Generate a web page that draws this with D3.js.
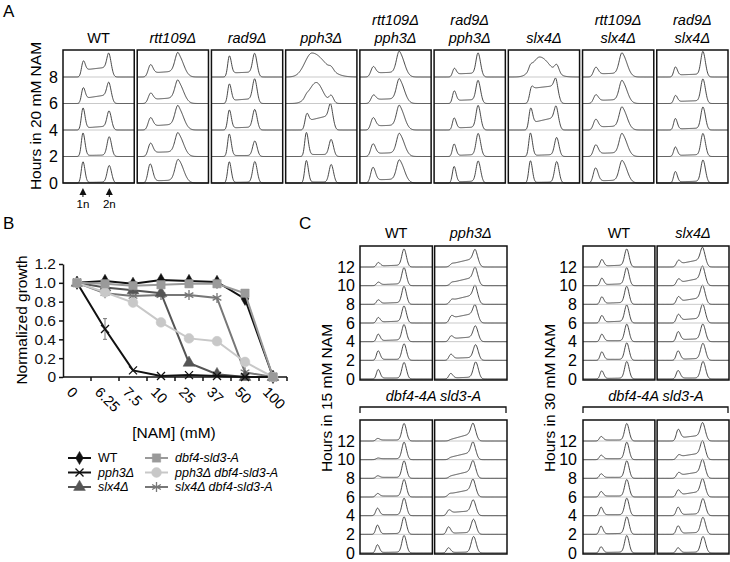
<!DOCTYPE html>
<html>
<head>
<meta charset="utf-8">
<script src="https://cdn.jsdelivr.net/npm/d3@7"></script>
<style>
body { margin: 0; background: #fff; }
svg { font-family: "Liberation Sans", Arial, sans-serif; }
</style>
</head>
<body>
<svg id="fig" width="730" height="562"></svg>
<script>
// ---------- data ----------
// Panel A: DNA content histograms, 20 mM NAM
const strainsA = ["WT", "rtt109Δ", "rad9Δ", "pph3Δ", "rtt109Δ pph3Δ", "rad9Δ pph3Δ", "slx4Δ", "rtt109Δ slx4Δ", "rad9Δ slx4Δ"];
const hoursA = [0, 2, 4, 6, 8];
// channel (0-100) of the 1n and 2n peaks
const peaksA = [[28, 65], [18, 58], [25, 61], [29, 64], [18, 56], [28, 62], [31, 68], [18, 56], [26, 65]];
// peak widths: 1n, 2n left side, 2n right side
const widthsA = [[2.3, 3, 3.2], [3, 4.5, 7], [2.3, 3, 3.2], [2.3, 3, 3.2], [3, 4.2, 6.5], [2.3, 3, 3.4], [2.3, 3, 3.2], [3, 4.2, 6.5], [2.3, 3, 3.4]];
// per strain, per hour: [1n count, 2n count, S level near 1n, S level near 2n, optional hump [channel, count, wl, wr]]
const histA = [
  [[21, 17, 0.5, 1], [23, 19, 1, 1.5], [21, 17, 2, 4], [13, 16, 5, 9], [12, 18, 7, 10]],
  [[18, 22, 2, 3], [11, 21, 4, 5], [10, 21, 4, 6], [8, 20, 4, 6], [10, 21, 4, 6]],
  [[21, 21, 0.5, 1], [22, 15, 1, 1], [19, 19, 2, 3], [18, 22, 3, 5], [19, 21, 4, 5]],
  [[22, 18, 1, 1], [23, 16, 2, 2], [11, 17, 9, 15], [2, 7, 0, 0, [43, 21, 10, 9]], [0, 3, 0, 0, [37, 24, 10, 18]]],
  [[14, 21, 3, 4], [11, 21, 3, 4], [10, 22, 4, 5], [6, 22, 4, 5], [8, 23, 4, 5]],
  [[16, 21, 1, 2], [12, 22, 1, 2], [11, 23, 2, 3], [11, 21, 3, 4], [7, 22, 3, 4]],
  [[22, 21, 0.5, 1], [23, 18, 1, 2], [18, 16, 7, 13], [6, 13, 15, 18], [4, 8, 0, 0, [44, 20, 10, 14]]],
  [[14, 21, 2, 3], [10, 21, 3, 4], [9, 21, 3, 4], [7, 21, 3, 4], [8, 22, 3, 4]],
  [[11, 22, 1, 2], [9, 22, 1, 2], [11, 22, 1, 2], [7, 23, 2, 3], [9, 24, 2, 3]]
];

// Panel B: growth vs NAM
const conc = ["0", "6.25", "7.5", "10", "25", "37", "50", "100"];
const growthWT = [1.0, 1.02, 0.99, 1.03, 1.02, 1.01, 0.83, 0.0];
const growthPph3 = [1.0, 0.51, 0.07, 0.01, 0.02, 0.01, 0.0, 0.0];
const errPph3 = [0, 0.11, 0.01, 0, 0, 0, 0, 0];
const growthSlx4 = [1.0, 0.95, 0.92, 0.89, 0.15, 0.03, 0.0, 0.0];
const growthDbf = [1.0, 0.99, 0.97, 0.98, 0.99, 0.99, 0.89, 0.0];
const growthPph3Dbf = [1.0, 0.9, 0.79, 0.58, 0.41, 0.38, 0.16, 0.0];
const growthSlx4Dbf = [1.0, 0.89, 0.86, 0.87, 0.87, 0.84, 0.05, 0.0];

// Panel C: histograms in 15 mM (left) and 30 mM (right) NAM
const hoursC = [0, 2, 4, 6, 8, 10, 12];
const strainsC15 = ["WT", "pph3Δ"];
const strainsC30 = ["WT", "slx4Δ"];
const peaksC15 = [[25, 61], [22, 57]];
const peaksC15dbf = [[24, 61], [19, 54]];
const peaksC30 = [[26, 61], [29, 64]];
const peaksC30dbf = [[25, 61], [29, 64]];
const widthsC = [[2.3, 3, 3.2], [2.5, 3.3, 3.5]];
const histC15 = [
  [[9, 16, 1, 1], [9, 16, 1, 1], [7, 16, 1, 2], [5, 16, 1, 2], [4, 17, 1, 2], [3, 17, 1, 2], [4, 17, 1, 2]],
  [[5, 16, 1, 2], [5, 14, 2, 3], [4, 13, 3, 5], [4, 12, 5, 10], [2, 13, 4, 10], [1, 13, 3, 9], [1, 12, 3, 9]]
];
const histC15dbf = [
  [[8, 17, 0.5, 1], [9, 17, 0.5, 1], [7, 17, 1, 1], [3, 17, 1, 1], [2, 17, 1, 1], [1, 17, 1, 1], [2, 17, 1, 1]],
  [[5, 16, 0.5, 1], [7, 14, 1, 2], [4, 13, 3, 5], [1, 13, 3, 8], [0, 13, 2, 8], [0, 13, 2, 8], [0, 13, 1, 8]]
];
const histC30 = [
  [[8, 17, 0.5, 1], [8, 17, 1, 1], [7, 17, 1, 1], [7, 17, 1, 2], [7, 17, 1, 2], [7, 17, 1, 2], [7, 17, 1, 2]],
  [[8, 17, 1, 1], [9, 16, 1, 2], [9, 16, 2, 3], [7, 16, 3, 5], [6, 15, 3, 7], [5, 15, 3, 8], [5, 15, 3, 8]]
];
const histC30dbf = [
  [[6, 17, 0.5, 1], [8, 17, 0.5, 1], [8, 17, 1, 1], [5, 17, 1, 1], [4, 17, 1, 1], [4, 17, 1, 1], [4, 17, 1, 1]],
  [[5, 16, 0.5, 1], [8, 16, 1, 2], [8, 16, 1, 2], [6, 15, 2, 6], [4, 15, 3, 7], [3, 15, 3, 7], [10, 15, 3, 6]]
];

// ---------- helpers ----------
const svg = d3.select("#fig");

function bump(c, p, wl, wr) {
  const z = (c - p) / (c < p ? wl : wr);
  return Math.exp(-0.5 * z * z);
}
function sig(z) { return 1 / (1 + Math.exp(-z)); }

// build a histogram trace from the peak readings
function profile(row, pk, w) {
  const [h1, h2, s0, s1, hump] = row;
  const [p1, p2] = pk;
  return d3.range(0, 100.01, 0.5).map(c => {
    const t = Math.max(0, Math.min(1, (c - p1) / (p2 - p1)));
    let v = h1 * bump(c, p1, w[0], w[0] * 1.2) + h2 * bump(c, p2, w[1], w[2])
      + (s0 + (s1 - s0) * t) * sig((c - p1) / 1.2) * sig((p2 - c) / 1.2);
    if (hump) v += hump[1] * bump(c, hump[0], hump[2], hump[3]);
    return [c, v];
  });
}

function drawBlock(g, xb, top, bottom, yH, yC, hours, peaks, widths, hists) {
  const line = d3.line();
  peaks.forEach((pk, i) => {
    const ch = d3.scaleLinear().domain([0, 100]).range([xb(i), xb(i) + xb.bandwidth()]);
    hours.forEach((h, j) => {
      // faint baseline under each trace
      g.append("line")
        .attr("x1", xb(i)).attr("x2", xb(i) + xb.bandwidth())
        .attr("y1", yH(h)).attr("y2", yH(h))
        .attr("stroke", "#bbb").attr("stroke-width", 0.8);
      const pts = profile(hists[i][j], pk, widths[i]).map(([c, v]) => [ch(c), yH(h) - yC(v)]);
      g.append("path")
        .attr("d", line(pts))
        .attr("fill", "none")
        .attr("stroke", "#333")
        .attr("stroke-width", 0.9);
    });
    g.append("rect")
      .attr("x", xb(i)).attr("y", top)
      .attr("width", xb.bandwidth()).attr("height", bottom - top)
      .attr("fill", "none")
      .attr("stroke", "#111")
      .attr("stroke-width", 1.5);
  });
}

function hourTicks(g, yH, hours, x) {
  g.append("g").selectAll("text")
    .data(hours.filter(h => h % 2 === 0))
    .enter().append("text")
    .attr("x", x).attr("y", d => yH(d))
    .attr("dy", "0.36em")
    .attr("text-anchor", "end")
    .attr("font-size", 16)
    .text(d => d);
}

function panelLabel(t, x, y) {
  svg.append("text").attr("x", x).attr("y", y).attr("font-size", 17).text(t);
}

// ---------- panel A ----------
panelLabel("A", 3, 17);
const gA = svg.append("g");
const xA = d3.scaleBand().domain(d3.range(strainsA.length)).range([63, 728]).paddingInner(0.04);
const yA = d3.scaleLinear().domain([0, 8]).range([183, 77]);
const cA = d3.scaleLinear().domain([0, 26.5]).range([0, 26.5]);
drawBlock(gA, xA, 50, 183, yA, cA, hoursA, peaksA, widthsA, histA);
hourTicks(gA, yA, hoursA, 58);

gA.selectAll(".head")
  .data(strainsA)
  .enter().append("text")
  .attr("class", "head")
  .attr("text-anchor", "middle")
  .attr("font-size", 14.5)
  .attr("font-style", d => d === "WT" ? "normal" : "italic")
  .each(function (d, i) {
    const parts = d.split(" ");
    const t = d3.select(this);
    parts.forEach((p, k) => {
      t.append("tspan")
        .attr("x", xA(i) + xA.bandwidth() / 2)
        .attr("y", 43 - (parts.length - 1 - k) * 18)
        .text(p);
    });
  });

svg.append("text")
  .attr("transform", "translate(41,116) rotate(-90)")
  .attr("text-anchor", "middle")
  .attr("font-size", 15.5)
  .text("Hours in 20 mM NAM");

// 1n / 2n arrows under WT
const chWT = d3.scaleLinear().domain([0, 100]).range([xA(0), xA(0) + xA.bandwidth()]);
["1n", "2n"].forEach((lab, k) => {
  const x = chWT(peaksA[0][k]);
  gA.append("path")
    .attr("d", `M${x},188L${x - 3.5},195L${x + 3.5},195Z`)
    .attr("fill", "#111");
  gA.append("line")
    .attr("x1", x).attr("x2", x).attr("y1", 194).attr("y2", 197)
    .attr("stroke", "#111").attr("stroke-width", 1);
  gA.append("text")
    .attr("x", x).attr("y", 208)
    .attr("text-anchor", "middle")
    .attr("font-size", 11.5)
    .text(lab);
});

// ---------- panel B ----------
panelLabel("B", 3, 229);
const gB = svg.append("g");
const xB = d3.scaleBand().domain(conc).range([63, 287]);
const yB = d3.scaleLinear().domain([0, 1.2]).range([377, 264]);

gB.append("g")
  .attr("transform", "translate(63,0)")
  .call(d3.axisLeft(yB)
    .tickValues([0, 0.2, 0.4, 0.6, 0.8, 1.0, 1.2])
    .tickSize(4).tickSizeOuter(0).tickPadding(3)
    .tickFormat(d => d === 0 ? "0" : d3.format(".1f")(d)))
  .call(a => a.selectAll("text").attr("font-size", 15.5).attr("font-family", null).attr("fill", "#111"))
  .call(a => a.selectAll("path, line").attr("stroke", "#111").attr("stroke-width", 1.5));

const axB = gB.append("g").attr("transform", "translate(0,377)");
axB.append("line").attr("x1", 63).attr("x2", 287)
  .attr("stroke", "#111").attr("stroke-width", 1.5);
axB.selectAll(".tk")
  .data(conc)
  .enter().append("line")
  .attr("class", "tk")
  .attr("x1", d => xB(d) + xB.bandwidth()).attr("x2", d => xB(d) + xB.bandwidth())
  .attr("y1", 0).attr("y2", 4)
  .attr("stroke", "#111").attr("stroke-width", 1.5);
axB.selectAll(".lb")
  .data(conc)
  .enter().append("text")
  .attr("class", "lb")
  .attr("transform", d => `translate(${xB(d) + xB.bandwidth() / 2 - 11},16) rotate(45)`)
  .attr("font-size", 14.5)
  .text(d => d);

svg.append("text")
  .attr("transform", "translate(27,320) rotate(-90)")
  .attr("text-anchor", "middle")
  .attr("font-size", 15.5)
  .text("Normalized growth");
svg.append("text")
  .attr("x", 174).attr("y", 438)
  .attr("text-anchor", "middle")
  .attr("font-size", 15.5)
  .text("[NAM] (mM)");

function xMark(s) {
  return `M${-s},${-s}L${s},${s}M${-s},${s}L${s},${-s}`;
}
function starMark(s) {
  const a = s * 0.87, b = s * 0.5;
  return `M0,${-s}L0,${s}M${-a},${-b}L${a},${b}M${-a},${b}L${a},${-b}`;
}

const seriesB = [
  { name: "slx4Δ dbf4-sld3-A", values: growthSlx4Dbf },
  { name: "slx4Δ", values: growthSlx4 },
  { name: "pph3Δ", values: growthPph3 },
  { name: "WT", values: growthWT },
  { name: "pph3Δ dbf4-sld3-A", values: growthPph3Dbf },
  { name: "dbf4-sld3-A", values: growthDbf }
];
const styleB = {
  "WT": { color: "#111", mark: d3.symbol(d3.symbolDiamond, 50)(), fill: true },
  "pph3Δ": { color: "#111", mark: xMark(4), fill: false },
  "slx4Δ": { color: "#555", mark: d3.symbol(d3.symbolTriangle, 60)(), fill: true },
  "dbf4-sld3-A": { color: "#9a9a9a", mark: d3.symbol(d3.symbolSquare, 70)(), fill: true },
  "pph3Δ dbf4-sld3-A": { color: "#c8c8c8", mark: d3.symbol(d3.symbolCircle, 75)(), fill: true },
  "slx4Δ dbf4-sld3-A": { color: "#777", mark: starMark(5), fill: false }
};

// error bars
gB.append("g").selectAll("path")
  .data(errPph3.map((e, i) => [i, e]).filter(d => d[1] > 0.02))
  .enter().append("path")
  .attr("d", ([i, e]) => {
    const x = xB(conc[i]) + xB.bandwidth() / 2;
    const y0 = yB(growthPph3[i] - e), y1 = yB(growthPph3[i] + e);
    return `M${x},${y0}V${y1}M${x - 2},${y1}H${x + 2}M${x - 2},${y0}H${x + 2}`;
  })
  .attr("stroke", "#777").attr("stroke-width", 1).attr("fill", "none");

const lineB = d3.line()
  .x((d, i) => xB(conc[i]) + xB.bandwidth() / 2)
  .y(d => yB(d));

seriesB.forEach(s => {
  const st = styleB[s.name];
  const gs = gB.append("g");
  gs.append("path")
    .attr("d", lineB(s.values))
    .attr("fill", "none")
    .attr("stroke", st.color)
    .attr("stroke-width", 2);
  gs.selectAll("path.m")
    .data(s.values)
    .enter().append("path")
    .attr("class", "m")
    .attr("transform", (d, i) => `translate(${xB(conc[i]) + xB.bandwidth() / 2},${yB(d)})`)
    .attr("d", st.mark)
    .attr("fill", st.fill ? st.color : "none")
    .attr("stroke", st.color)
    .attr("stroke-width", st.fill ? 0.5 : 1.3);
});

// legend
const legendOrder = ["WT", "pph3Δ", "slx4Δ", "dbf4-sld3-A", "pph3Δ dbf4-sld3-A", "slx4Δ dbf4-sld3-A"];
const gLeg = svg.append("g");
legendOrder.forEach((name, k) => {
  const st = styleB[name];
  const col = Math.floor(k / 3), row = k % 3;
  const x0 = col === 0 ? 68 : 145, y = 458 + row * 14.5;
  gLeg.append("line")
    .attr("x1", x0).attr("x2", x0 + 23).attr("y1", y).attr("y2", y)
    .attr("stroke", st.color).attr("stroke-width", 2);
  gLeg.append("path")
    .attr("transform", `translate(${x0 + 11.5},${y})`)
    .attr("d", st.mark)
    .attr("fill", st.fill ? st.color : "none")
    .attr("stroke", st.color)
    .attr("stroke-width", st.fill ? 0.5 : 1.3);
  gLeg.append("text")
    .attr("x", x0 + 30).attr("y", y)
    .attr("dy", "0.35em")
    .attr("font-size", 12.5)
    .attr("font-style", name === "WT" ? "normal" : "italic")
    .text(name);
});

// ---------- panel C ----------
panelLabel("C", 299, 229);

function panelC(range, tickX, titleX, title, strains, peaksTop, histTop, peaksBot, histBot) {
  const g = svg.append("g");
  const xb = d3.scaleBand().domain(d3.range(strains.length)).range(range).paddingInner(0.03);
  const yTop = d3.scaleLinear().domain([0, 12]).range([379, 267]);
  const yBot = d3.scaleLinear().domain([0, 12]).range([553, 441]);
  const cC = d3.scaleLinear().domain([0, 19]).range([0, 19]);

  drawBlock(g, xb, 246, 380, yTop, cC, hoursC, peaksTop, widthsC, histTop);
  drawBlock(g, xb, 420, 554, yBot, cC, hoursC, peaksBot, widthsC, histBot);
  hourTicks(g, yTop, hoursC, tickX);
  hourTicks(g, yBot, hoursC, tickX);

  g.selectAll(".head")
    .data(strains)
    .enter().append("text")
    .attr("x", (d, i) => xb(i) + xb.bandwidth() / 2)
    .attr("y", 238)
    .attr("text-anchor", "middle")
    .attr("font-size", 14.5)
    .attr("font-style", d => d === "WT" ? "normal" : "italic")
    .text(d => d);

  g.append("text")
    .attr("x", (range[0] + range[1]) / 2).attr("y", 401)
    .attr("text-anchor", "middle")
    .attr("font-size", 14.5)
    .attr("font-style", "italic")
    .text("dbf4-4A sld3-A");
  g.append("path")
    .attr("d", `M${range[0]},413V407H${range[1] - 1}V413`)
    .attr("fill", "none")
    .attr("stroke", "#111")
    .attr("stroke-width", 1.3);

  g.append("text")
    .attr("transform", `translate(${titleX},398) rotate(-90)`)
    .attr("text-anchor", "middle")
    .attr("font-size", 15.5)
    .text(title);
}

panelC([360, 507], 355, 332, "Hours in 15 mM NAM", strainsC15, peaksC15, histC15, peaksC15dbf, histC15dbf);
panelC([583, 729], 577, 555, "Hours in 30 mM NAM", strainsC30, peaksC30, histC30, peaksC30dbf, histC30dbf);
</script>
</body>
</html>
